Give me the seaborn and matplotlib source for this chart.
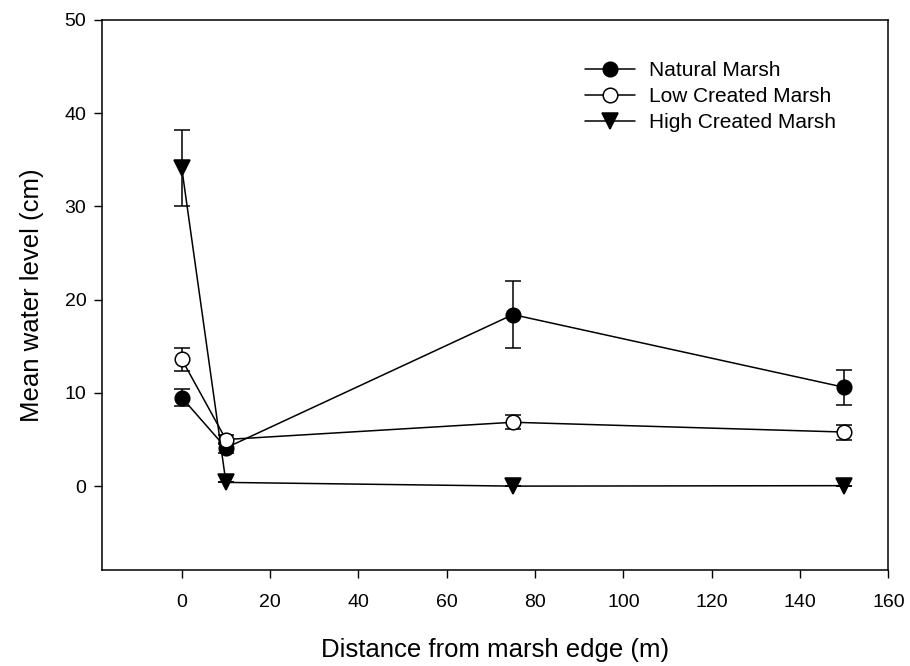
import numpy as np
import pandas as pd
import matplotlib
matplotlib.use("Agg")
import matplotlib.pyplot as plt
import seaborn as sns
from matplotlib.lines import Line2D

# ---- data ----
distance = [0, 10, 75, 150]
series_names = ["Natural Marsh", "Low Created Marsh", "High Created Marsh"]
natural_mean = [9.5, 4.1, 18.4, 10.6]
natural_err = [0.95, 0.5, 3.6, 1.85]
low_mean = [13.6, 5.0, 6.85, 5.8]
low_err = [1.2, 0.5, 0.75, 0.8]
high_mean = [34.1, 0.4, 0.0, 0.05]
high_err = [4.1, 0.0, 0.0, 0.0]

xticks = [0, 20, 40, 60, 80, 100, 120, 140, 160]
yticks = [0, 10, 20, 30, 40, 50]

sns.set_theme(style="ticks")
plt.rcParams['font.family'] = ['Liberation Sans', 'DejaVu Sans']

df = pd.DataFrame({
    "distance": distance * 3,
    "level": natural_mean + low_mean + high_mean,
    "err": natural_err + low_err + high_err,
    "series": sum([[n] * len(distance) for n in series_names], []),
})

fig = plt.figure(figsize=(9.1, 6.66), dpi=100)
ax = fig.add_axes([0.1124, 0.1441, 0.9762 - 0.1124, 0.970 - 0.1441])

markers = {"Natural Marsh": "o", "Low Created Marsh": "o", "High Created Marsh": "v"}
faces = {"Natural Marsh": "black", "Low Created Marsh": "white", "High Created Marsh": "black"}
msize = {"Natural Marsh": 10.5, "Low Created Marsh": 10.5, "High Created Marsh": 11}

for name in series_names:
    sub = df[df.series == name]
    ax.errorbar(sub.distance, sub.level, yerr=sub.err, fmt="none", ecolor="black",
                elinewidth=1.1, capsize=6, capthick=1.1, zorder=2)
    sns.lineplot(data=sub, x="distance", y="level", ax=ax, color="black",
                 linewidth=1.1, marker=markers[name], markersize=msize[name],
                 markerfacecolor=faces[name], markeredgecolor="black",
                 markeredgewidth=1.1, estimator=None, sort=False, zorder=3,
                 legend=False)

ax.set_xlim(-18, 160)
ax.set_ylim(-9, 50)
ax.set_xticks(xticks)
ax.set_yticks(yticks)
ax.tick_params(axis="x", direction="out", length=6, width=1, pad=11, labelsize=14, colors="black")
ax.tick_params(axis="y", direction="out", length=5.5, width=1, pad=6, labelsize=14, colors="black")
for s in ax.spines.values():
    s.set_linewidth(1.1)
    s.set_color("black")
    s.set_visible(True)

ax.set_xlabel("Distance from marsh edge (m)", fontsize=18.5, labelpad=20, color="black")
ax.set_ylabel("Mean water level (cm)", fontsize=18.5, labelpad=15, color="black")

handles = [Line2D([], [], color="black", linewidth=1.1, marker=markers[n], markersize=msize[n],
                  markerfacecolor=faces[n], markeredgecolor="black", markeredgewidth=1.1)
           for n in series_names]
leg = ax.legend(handles, series_names, loc="upper left", bbox_to_anchor=(0.601, 0.944),
                frameon=False, fontsize=15, handlelength=2.4, handletextpad=0.65,
                labelspacing=0.33, borderpad=0)
for t in leg.get_texts():
    t.set_color("black")

fig.savefig("out.png", dpi=100)
